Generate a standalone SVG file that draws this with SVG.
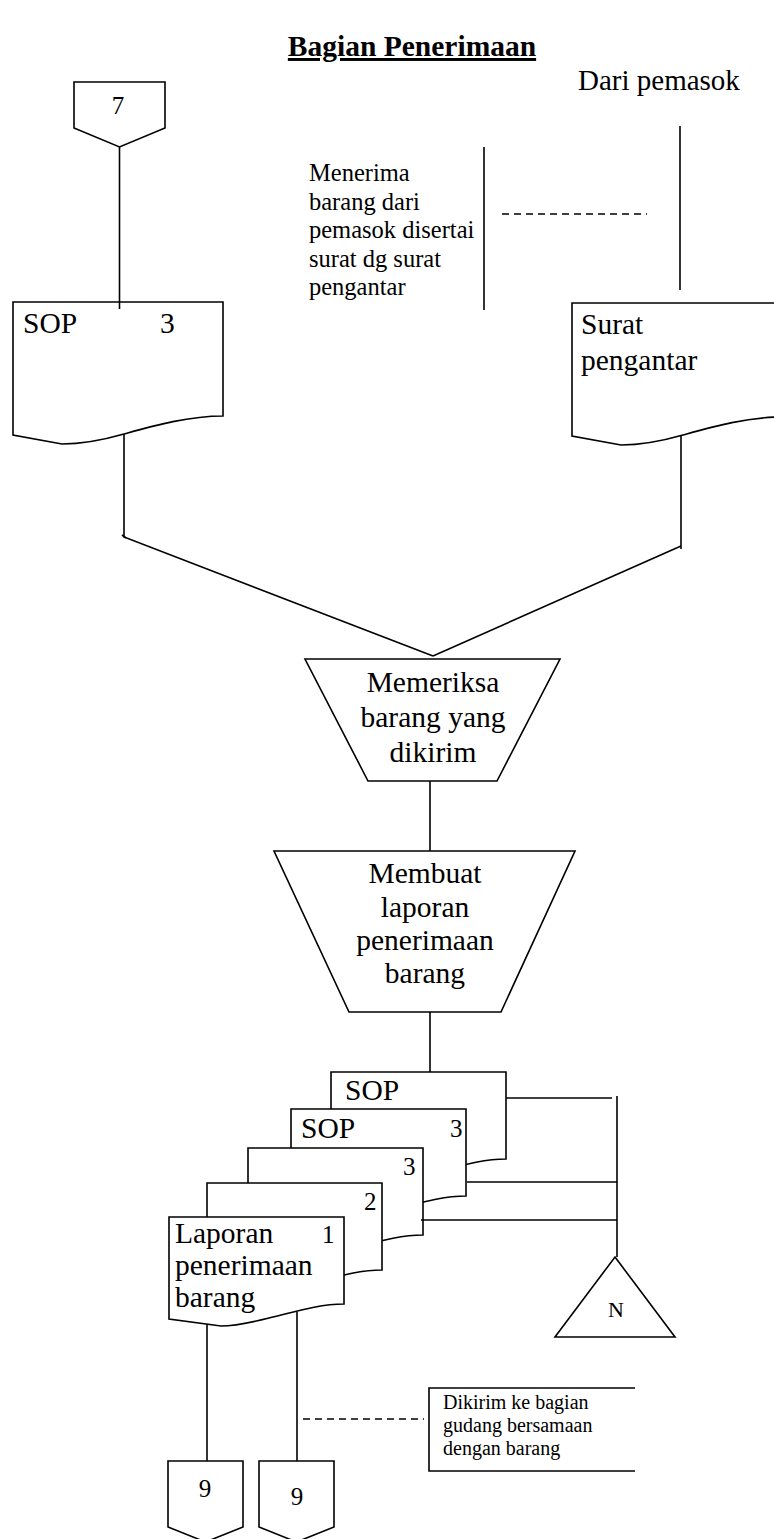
<svg xmlns="http://www.w3.org/2000/svg" xmlns:xlink="http://www.w3.org/1999/xlink" width="774" height="1539" viewBox="0 0 774 1539">
  <style>
    .shape { fill: #fff; stroke: #000; stroke-width: 1.6; stroke-linejoin: miter; }
    .open { fill: none; stroke: #000; stroke-width: 1.6; }
    .dash { fill: none; stroke: #000; stroke-width: 1.4; stroke-dasharray: 7 5; }
    .txt { font-family: "Liberation Serif", "Times New Roman", serif; fill: #000; }
    .big { font-size: 29.5px; }
    .mid { font-size: 24.5px; }
    .small { font-size: 20px; }
    .num { font-size: 25px; }
    .c { text-anchor: middle; }
  </style>
  <defs>
    <!-- small document symbol, 175 wide, wavy bottom -->
    <path id="docS" class="shape" d="M0,0 H175 V87 C150,87 125,95 100,101 C84,105 68,109 52,109 L0,102 Z"/>
  </defs>

  <rect width="774" height="1539" fill="#fff"/>

  <!-- heading -->
  <text class="txt" x="412" y="56" text-anchor="middle" font-size="29.5" font-weight="bold" text-decoration="underline">Bagian Penerimaan</text>

  <!-- off-page connector 7 -->
  <g id="conn-7">
    <path class="shape" d="M74,82 H165 V128 L119.5,147 L74,128 Z"/>
    <text class="txt num c" x="118" y="114">7</text>
  </g>

  <!-- source label -->
  <g id="dari-pemasok">
    <text class="txt" x="578" y="90" font-size="29">Dari pemasok</text>
  </g>

  <!-- note on receiving goods -->
  <g id="note-menerima">
    <text class="txt mid" x="309" y="181">Menerima</text>
    <text class="txt mid" x="309" y="210">barang dari</text>
    <text class="txt mid" x="309" y="238">pemasok disertai</text>
    <text class="txt mid" x="309" y="267">surat dg surat</text>
    <text class="txt mid" x="309" y="295">pengantar</text>
    <line class="open" x1="484" y1="147" x2="484" y2="310"/>
  </g>

  <!-- SOP document -->
  <g id="doc-sop">
    <path class="shape" d="M13,302 H223 V416 C188,416 153,426 124,434 C103,440 83,444 62,444 L13,435 Z"/>
    <text class="txt big" x="23" y="333">SOP</text>
    <text class="txt big" x="160" y="333">3</text>
  </g>

  <!-- delivery note document -->
  <g id="doc-surat">
    <path class="shape" d="M572,303 H782 V417 C747,417 712,427 683,435 C662,441 642,445 621,445 L572,436 Z"/>
    <text class="txt big" x="581" y="334">Surat</text>
    <text class="txt big" x="581" y="370">pengantar</text>
  </g>

  <!-- manual operation: check goods -->
  <g id="op-memeriksa">
    <path class="shape" d="M305,659 H560 L497,781 H368 Z"/>
    <text class="txt big c" x="433" y="692">Memeriksa</text>
    <text class="txt big c" x="433" y="727">barang yang</text>
    <text class="txt big c" x="433" y="762">dikirim</text>
  </g>

  <!-- manual operation: make receiving report -->
  <g id="op-membuat">
    <path class="shape" d="M274,851 H575 L501,1012 H349 Z"/>
    <text class="txt big c" x="425" y="883">Membuat</text>
    <text class="txt big c" x="425" y="917">laporan</text>
    <text class="txt big c" x="425" y="950">penerimaan</text>
    <text class="txt big c" x="425" y="983">barang</text>
  </g>

  <!-- receiving report copies, back to front -->
  <g id="doc-copy-sop">
    <use xlink:href="#docS" transform="translate(331,1072)"/>
    <text class="txt big" x="345" y="1100">SOP</text>
  </g>
  <g id="doc-copy-sop-3">
    <use xlink:href="#docS" transform="translate(291,1109)"/>
    <text class="txt big" x="301" y="1138">SOP</text>
    <text class="txt num" x="450" y="1137">3</text>
  </g>
  <g id="doc-copy-3">
    <use xlink:href="#docS" transform="translate(248,1148)"/>
    <text class="txt num" x="403" y="1175">3</text>
  </g>
  <g id="doc-copy-2">
    <use xlink:href="#docS" transform="translate(207,1183)"/>
    <text class="txt num" x="364" y="1210">2</text>
  </g>
  <g id="doc-copy-1">
    <use xlink:href="#docS" transform="translate(169,1217)"/>
    <text class="txt big" x="175" y="1243">Laporan</text>
    <text class="txt num" x="322" y="1243">1</text>
    <text class="txt big" x="175" y="1275">penerimaan</text>
    <text class="txt big" x="175" y="1307">barang</text>
  </g>

  <!-- file N -->
  <g id="file-n">
    <path class="shape" d="M615,1257 L675,1337 H555 Z"/>
    <text class="txt c" x="616" y="1317" font-size="22">N</text>
  </g>

  <!-- note on sending to warehouse -->
  <g id="note-dikirim">
    <path class="open" d="M635,1388 H429 V1471 H635"/>
    <text class="txt small" x="443" y="1409">Dikirim ke bagian</text>
    <text class="txt small" x="443" y="1432">gudang bersamaan</text>
    <text class="txt small" x="443" y="1455">dengan barang</text>
  </g>

  <!-- off-page connectors 9 -->
  <g id="conn-9a">
    <path class="shape" d="M168,1461 H243 V1527 L205.5,1542 L168,1527 Z"/>
    <text class="txt num c" x="205" y="1497">9</text>
  </g>
  <g id="conn-9b">
    <path class="shape" d="M259,1461 H334 V1527 L296.5,1542 L259,1527 Z"/>
    <text class="txt num c" x="297" y="1505">9</text>
  </g>

  <!-- flow lines -->
  <g id="connectors">
    <line class="open" x1="119.5" y1="147" x2="119.5" y2="309"/>
    <line class="open" x1="680" y1="126" x2="680" y2="290"/>
    <line class="dash" x1="502" y1="214" x2="647" y2="214"/>
    <polyline class="open" points="124,434 124,537 433,656"/>
    <line class="open" x1="122" y1="535" x2="126" y2="538"/>
    <polyline class="open" points="681,436 681,549"/>
    <line class="open" x1="681" y1="546" x2="433" y2="656"/>
    <line class="open" x1="430" y1="781" x2="430" y2="851"/>
    <line class="open" x1="430" y1="1012" x2="430" y2="1072"/>
    <line class="open" x1="506" y1="1098" x2="612" y2="1098"/>
    <line class="open" x1="617" y1="1096" x2="617" y2="1257"/>
    <line class="open" x1="467" y1="1182" x2="617" y2="1182"/>
    <line class="open" x1="421" y1="1220" x2="617" y2="1220"/>
    <line class="open" x1="207" y1="1324" x2="207" y2="1461"/>
    <line class="open" x1="297" y1="1312" x2="297" y2="1461"/>
    <line class="dash" x1="303" y1="1419" x2="424" y2="1419"/>
  </g>
</svg>
